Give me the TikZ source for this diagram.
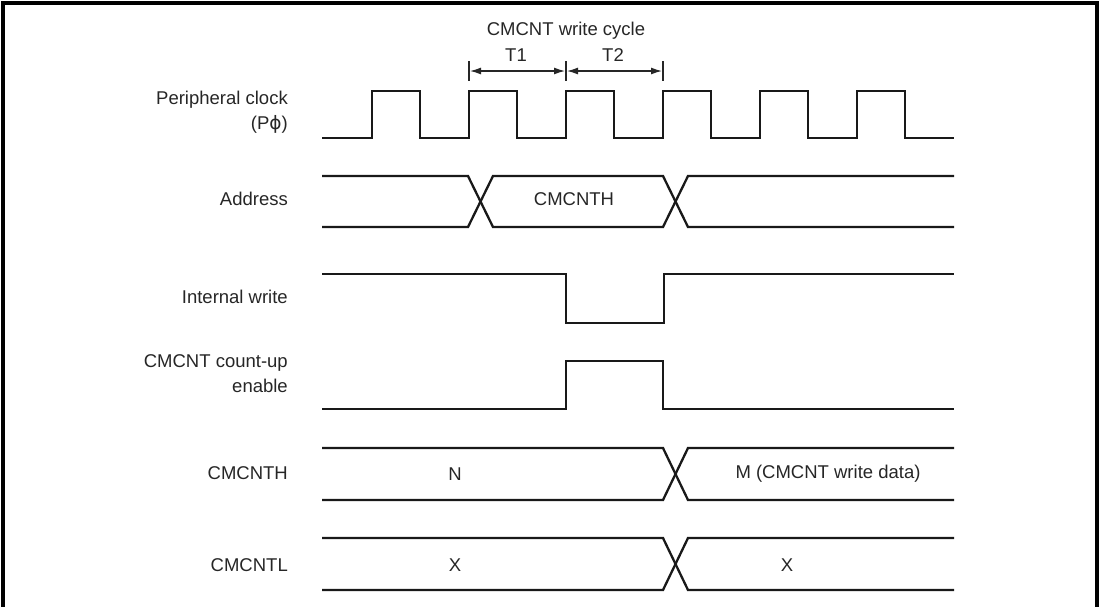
\documentclass[tikz,border=0pt]{standalone}
\usepackage{fontspec}
\setmainfont{Liberation Sans}
\newfontfamily\dvfont{DejaVu Sans}
\usetikzlibrary{arrows.meta}
\tikzset{
  sig/.style={line width=2.3pt, draw=black!90, line join=miter},
  clk/.style={line width=2.7pt, draw=black!90, line join=miter},
  border/.style={line width=4pt, draw=black},
  lbl/.style={anchor=east, inner sep=0pt, font=\fontsize{18.5}{22}\selectfont, text=black!85},
  txt/.style={inner sep=0pt, font=\fontsize{18.5}{22}\selectfont, text=black!85},
  tick/.style={line width=1.2pt, draw=black!85},
  dim/.style={line width=1.3pt, draw=black!85, {Latex[length=11pt,width=7pt]}-{Latex[length=11pt,width=7pt]}}
}
\begin{document}
\begin{tikzpicture}[x=1pt,y=-1pt]
\useasboundingbox (0,0) rectangle (1101,606);
\draw[border] (3,608) -- (3,3) -- (1097,3) -- (1097,608);

% title and period markers
\node[txt] (title) at (566,31) {CMCNT write cycle};
\coordinate (k1a) at (469,61); \coordinate (k1b) at (469,81);
\coordinate (k2a) at (566,61); \coordinate (k2b) at (566,81);
\coordinate (k3a) at (663,61); \coordinate (k3b) at (663,81);
\draw[tick] (k1a) -- (k1b);
\draw[tick] (k2a) -- (k2b);
\draw[tick] (k3a) -- (k3b);
\coordinate (a1) at (470,71); \coordinate (a2) at (565,71);
\coordinate (a3) at (567,71); \coordinate (a4) at (662,71);
\draw[dim] (a1) -- (a2);
\draw[dim] (a3) -- (a4);
\node[txt] (t1) at (516,55) {T1};
\node[txt] (t2) at (613,55) {T2};

% labels
\node[lbl] (lclk) at (288,100) {Peripheral clock};
\node[lbl] (lclk2) at (288,124) {(P{\dvfont ϕ})};
\node[lbl] (laddr) at (288,199) {Address};
\node[lbl] (lwr) at (288,297) {Internal write};
\node[lbl] (len) at (288,363) {CMCNT count-up};
\node[lbl] (len2) at (288,386) {enable};
\node[lbl] (lh) at (288,473) {CMCNTH};
\node[lbl] (ll) at (288,565) {CMCNTL};

% clock
\draw[clk] (322,138)
  -- (372,138) -- (372,91) -- (420,91) -- (420,138)
  -- (469,138) -- (469,91) -- (517,91) -- (517,138)
  -- (566,138) -- (566,91) -- (614,91) -- (614,138)
  -- (663,138) -- (663,91) -- (711,91) -- (711,138)
  -- (760,138) -- (760,91) -- (808,91) -- (808,138)
  -- (857,138) -- (857,91) -- (905,91) -- (905,138)
  -- (954,138);

% address
\draw[sig] (322,176) -- (468,176) -- (493,227) -- (663,227) -- (688,176) -- (954,176);
\draw[sig] (322,227) -- (468,227) -- (493,176) -- (663,176) -- (688,227) -- (954,227);
\node[txt] (addrv) at (574,199) {CMCNTH};

% internal write
\draw[sig] (322,274) -- (566,274) -- (566,323) -- (664,323) -- (664,274) -- (954,274);

% count-up enable
\draw[sig] (322,409) -- (566,409) -- (566,361) -- (663,361) -- (663,409) -- (954,409);

% CMCNTH
\draw[sig] (322,448) -- (663,448) -- (688,500) -- (954,500);
\draw[sig] (322,500) -- (663,500) -- (688,448) -- (954,448);
\node[txt] (nv) at (455,474) {N};
\node[txt] (mv) at (828,474) {M (CMCNT write data)};

% CMCNTL
\draw[sig] (322,538) -- (663,538) -- (688,590) -- (954,590);
\draw[sig] (322,590) -- (663,590) -- (688,538) -- (954,538);
\node[txt] (xv1) at (455,565) {X};
\node[txt] (xv2) at (787,565) {X};
\end{tikzpicture}
\end{document}
